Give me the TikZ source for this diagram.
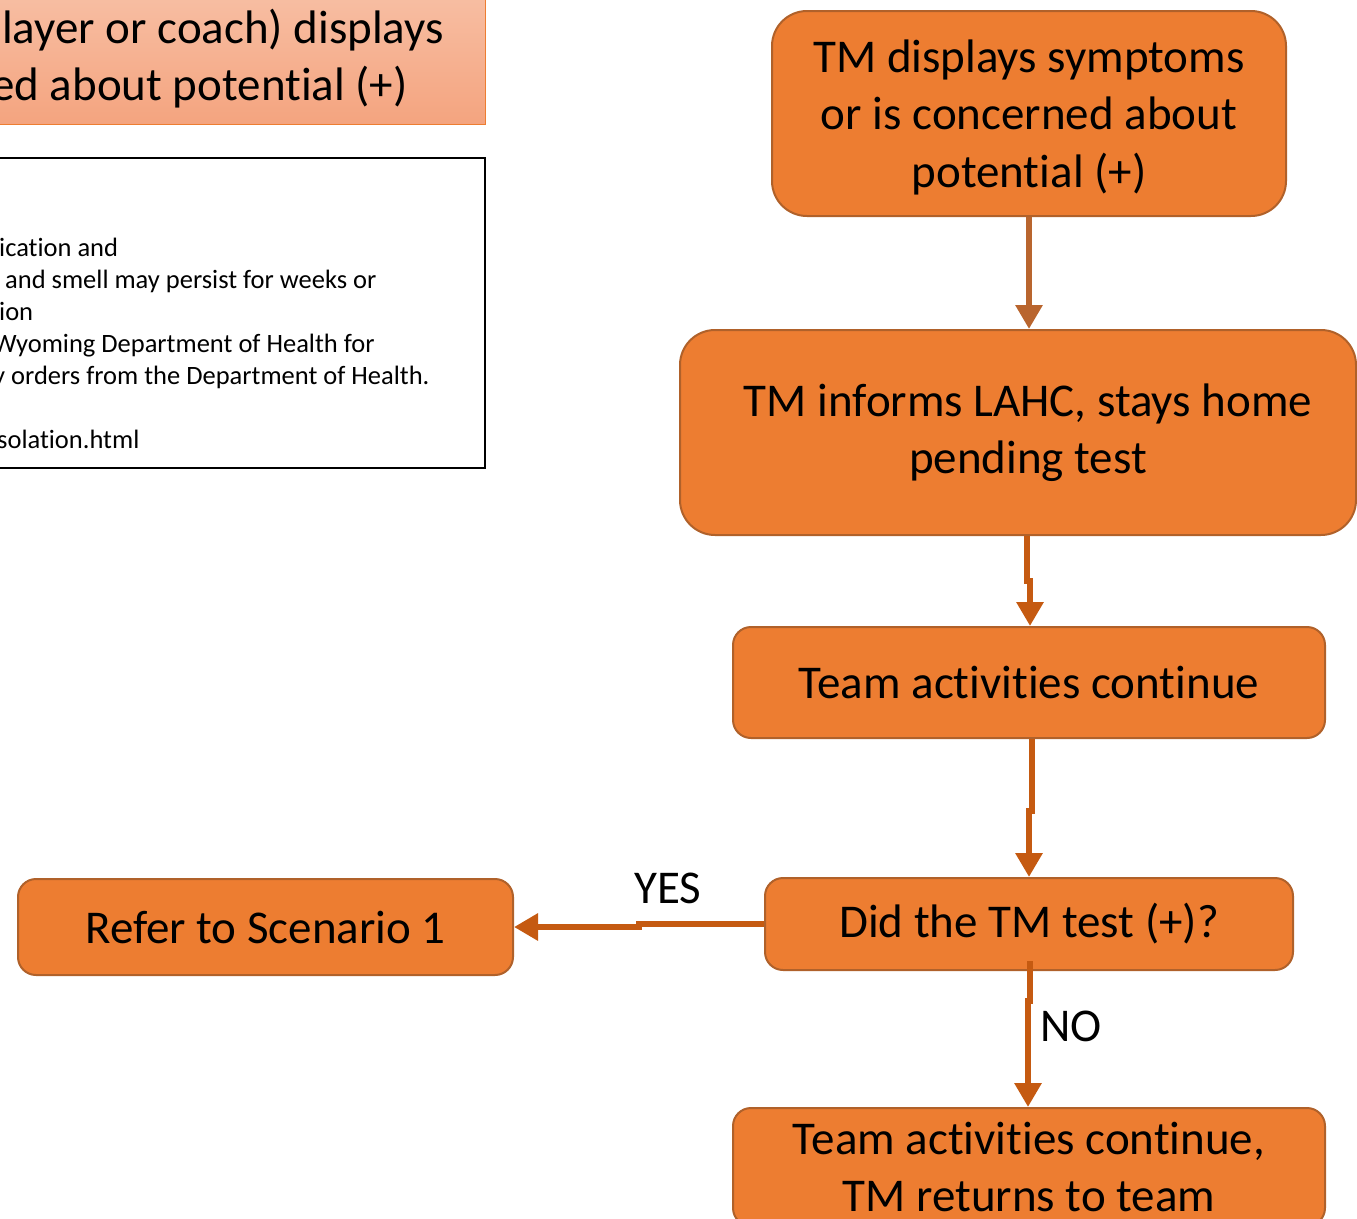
\documentclass[tikz,border=0pt]{standalone}
\usepackage{fontspec}
\setmainfont{Carlito}[Ligatures={NoCommon,NoRare,NoContextual}]
\usetikzlibrary{arrows.meta}
\definecolor{orfill}{HTML}{ED7D31}
\definecolor{orline}{HTML}{B0612A}
\definecolor{arrc}{HTML}{C55A11}
\definecolor{arrb}{HTML}{B9652E}
\definecolor{salmtop}{HTML}{F8C1A7}
\definecolor{salmbot}{HTML}{F4A47F}
\tikzset{
  box/.style={draw=orline, line width=2pt, fill=orfill, align=center,
    font=\fontsize{47}{57.5}\selectfont, inner sep=0pt},
  bigbox/.style={box, rounded corners=35pt},
  smallbox/.style={box, rounded corners=18pt},
  arr/.style={draw=arrc, line width=6pt, -{Triangle[width=26pt,length=24pt]}},
  bigtxt/.style={font=\fontsize{47}{57.5}\selectfont, inner sep=0pt},
  infotxt/.style={font=\fontsize{26.5}{32}\selectfont, inner sep=0pt, anchor=base west},
}
\begin{document}
\begin{tikzpicture}[x=1pt,y=-1pt]
\useasboundingbox (0,0) rectangle (1357,1218);
% summary box (cropped)
\node[top color=salmtop, bottom color=salmbot, draw=orfill, line width=1pt,
  minimum width=505pt, minimum height=144pt, inner sep=0pt] (sum) at (232.5,52) {};
\node[bigtxt, anchor=base west] (s1) at (2,43) {layer or coach) displays};
\node[bigtxt, anchor=base west] (s2) at (-9,100) {ed about potential (+)};
% info box (cropped)
\node[draw=black, line width=2.5pt, fill=white, minimum width=500pt,
  minimum height=310pt, inner sep=0pt] (info) at (235,313) {};
\node[infotxt] (i1) at (-1,256) {ication and};
\node[infotxt] (i2) at (5,288) {and smell may persist for weeks or};
\node[infotxt] (i3) at (-1,320) {ion};
\node[infotxt] (i4) at (-7,352) {Wyoming Department of Health for};
\node[infotxt] (i5) at (-7,384) {y orders from the Department of Health.};
\node[infotxt] (i6) at (-3,448) {solation.html};
% flow boxes
\node[bigbox, minimum width=514pt, minimum height=205pt] (tm) at (1029,113.5)
  {\rule{0pt}{40pt}TM displays symptoms\\or is concerned about\\potential (+)};
\node[bigbox, minimum width=676pt, minimum height=205pt] (inf) at (1018,432.5)
  {\hspace*{20pt}TM informs LAHC, stays home\\\hspace*{20pt}pending test};
\node[smallbox, minimum width=592pt, minimum height=111pt] (team1) at (1029,682.5)
  {Team activities continue};
\node[smallbox, minimum width=528pt, minimum height=92pt] (test) at (1029,924)
  {Did the TM test (+)?};
\node[smallbox, minimum width=495pt, minimum height=96pt] (refer) at (265.5,927)
  {Refer to Scenario 1};
\node[smallbox, minimum width=592pt, minimum height=118pt] (ret) at (1029,1167)
  {Team activities continue,\\TM returns to team};
% connectors
\draw[arr, draw=arrb] (tm.south) -- (tm.south |- inf.north);
\draw[arr] ([xshift=9pt]inf.south) -- ++(0,45) -| ([xshift=1pt]team1.north);
\draw[arr] ([xshift=3pt]team1.south) -- ++(0,72) -| (test.north);
\draw[arr] (test.west) -- ++(-125,0) |- (refer.east);
\draw[arr] ([xshift=1pt,yshift=10pt]test.south) -- ++(0,40) -| ([xshift=-1pt]ret.north);
% labels
\node[bigtxt] (yes) at (668,888) {YES};
\node[bigtxt] (no) at (1071,1026) {NO};
\end{tikzpicture}
\end{document}
